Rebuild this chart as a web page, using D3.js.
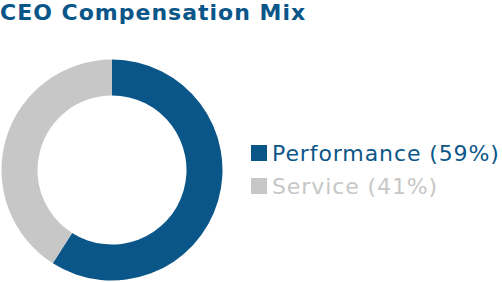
<!DOCTYPE html>
<meta charset="utf-8">
<head>
  <meta charset="utf-8">
  <title>CEO Compensation Mix</title>
</head>
<style>
body { margin: 0; background: #fff; }
svg text { font-family: 'DejaVu Sans', sans-serif; }
</style>
<body>
<div class='chart'></div>

<script src="https://d3js.org/d3.v7.min.js"></script>
<script>

// chart values
var labels = ['Performance', 'Service']
var shares = [59, 41]
var colors = ['#0b5688', '#c6c7c6']

var width = 502
var height = 282

var svg = d3.select('.chart')
    .append('svg')
    .attr('width', width)
    .attr('height', height)

svg.append('text')
    .attr('x', 0)
    .attr('y', 20)
    .attr('fill', '#0b5688')
    .style('font-size', '22px')
    .style('font-weight', 'bold')
    .style('letter-spacing', '1px')
    .text('CEO Compensation Mix')

var data = labels.map(function (d, i) { return { label: d, value: shares[i], color: colors[i] } })

var pie = d3.pie().sort(null).value(function (d) { return d.value })
var arc = d3.arc().innerRadius(74.5).outerRadius(110.5)

var g = svg.append('g').attr('transform', 'translate(112,170)')

g.selectAll('path')
    .data(pie(data))
    .enter().append('path')
    .attr('d', arc)
    .attr('fill', function (d) { return d.data.color })

// legend
var legend = svg.selectAll('.legend')
    .data(data)
    .enter().append('g')
    .attr('class', 'legend')
    .attr('transform', function (d, i) { return 'translate(251,' + (145 + i * 33) + ')' })

legend.append('rect')
    .attr('width', 16)
    .attr('height', 16)
    .attr('fill', function (d) { return d.color })

legend.append('text')
    .attr('x', 21)
    .attr('y', 16)
    .attr('fill', function (d) { return d.color })
    .style('font-size', '22px')
    .style('letter-spacing', '0.9px')
    .text(function (d) { return d.label + ' (' + d.value + '%)' })

</script>
</body>
